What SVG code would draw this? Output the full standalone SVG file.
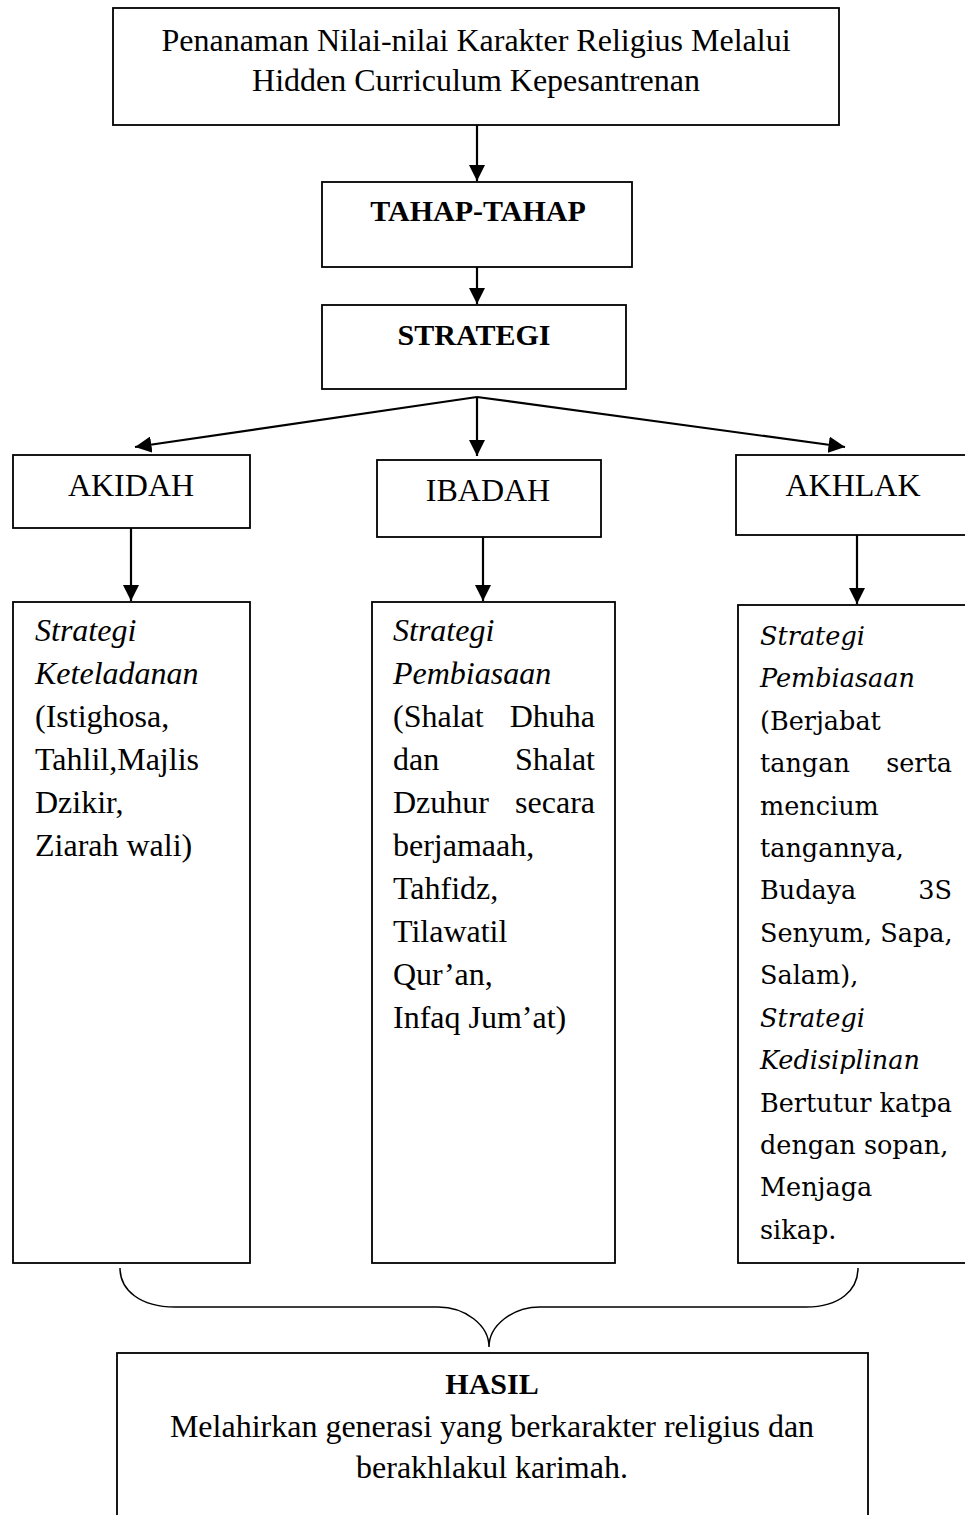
<svg xmlns="http://www.w3.org/2000/svg" width="965" height="1515" viewBox="0 0 965 1515">
<style>
.box{fill:#fff;stroke:#000;stroke-width:1.8}
.t{font-family:"Liberation Serif","Times New Roman",serif;font-size:32px;fill:#000}
.c{text-anchor:middle}
.b{font-weight:bold;font-size:30px}
.i{font-style:italic}
.e{text-anchor:end}
.r{font-family:"DejaVu Serif","Liberation Serif",serif;font-size:25.5px;fill:#000}
.ln{stroke:#000;stroke-width:2.2;fill:none}
</style>
<defs>
<marker id="ah" viewBox="0 0 10 10" refX="10" refY="5" markerWidth="7.5" markerHeight="7.5" orient="auto" markerUnits="strokeWidth">
<path d="M0,0 L10,5 L0,10 z" fill="#000"/>
</marker>
</defs>
<rect width="965" height="1515" fill="#fff"/>
<g id="connectors">
<line class="ln" x1="477" y1="125" x2="477" y2="181" marker-end="url(#ah)"/>
<line class="ln" x1="477" y1="267" x2="477" y2="304" marker-end="url(#ah)"/>
<line class="ln" x1="477" y1="397" x2="135" y2="447" marker-end="url(#ah)"/>
<line class="ln" x1="477" y1="397" x2="477" y2="456" marker-end="url(#ah)"/>
<line class="ln" x1="477" y1="397" x2="845" y2="447" marker-end="url(#ah)"/>
<line class="ln" x1="131" y1="528" x2="131" y2="601" marker-end="url(#ah)"/>
<line class="ln" x1="483" y1="537" x2="483" y2="601" marker-end="url(#ah)"/>
<line class="ln" x1="857" y1="535" x2="857" y2="604" marker-end="url(#ah)"/>
<path d="M120,1268 C120,1290 140,1307 175,1307 L438,1307 C465,1307 489,1325 489,1347 C489,1325 513,1307 540,1307 L806,1307 C840,1307 858,1290 858,1268" fill="none" stroke="#000" stroke-width="1.5"/>
</g>
<g id="top">
<rect class="box" x="113" y="8" width="726" height="117"/>
<text class="t c" x="476" y="51">Penanaman Nilai-nilai Karakter Religius Melalui</text>
<text class="t c" x="476" y="91">Hidden Curriculum Kepesantrenan</text>
</g>
<g id="tahap">
<rect class="box" x="322" y="182" width="310" height="85"/>
<text class="t c b" x="478" y="221">TAHAP-TAHAP</text>
</g>
<g id="strategi">
<rect class="box" x="322" y="305" width="304" height="84"/>
<text class="t c b" x="474" y="345">STRATEGI</text>
</g>
<g id="akidah">
<rect class="box" x="13" y="455" width="237" height="73"/>
<text class="t c" x="131" y="496">AKIDAH</text>
</g>
<g id="ibadah">
<rect class="box" x="377" y="460" width="224" height="77"/>
<text class="t c" x="488" y="501">IBADAH</text>
</g>
<g id="akhlak">
<rect class="box" x="736" y="455" width="235" height="80"/>
<text class="t c" x="853" y="496">AKHLAK</text>
</g>
<g id="col-akidah">
<rect class="box" x="13" y="602" width="237" height="661"/>
<text class="t i" x="35" y="641">Strategi</text>
<text class="t i" x="35" y="684">Keteladanan</text>
<text class="t" x="35" y="727">(Istighosa,</text>
<text class="t" x="35" y="770">Tahlil,Majlis</text>
<text class="t" x="35" y="813">Dzikir,</text>
<text class="t" x="35" y="856">Ziarah wali)</text>
</g>
<g id="col-ibadah">
<rect class="box" x="372" y="602" width="243" height="661"/>
<text class="t i" x="393" y="641">Strategi</text>
<text class="t i" x="393" y="684">Pembiasaan</text>
<text class="t" x="393" y="727">(Shalat</text><text class="t e" x="595" y="727">Dhuha</text>
<text class="t" x="393" y="770">dan</text><text class="t e" x="595" y="770">Shalat</text>
<text class="t" x="393" y="813">Dzuhur</text><text class="t e" x="595" y="813">secara</text>
<text class="t" x="393" y="856">berjamaah,</text>
<text class="t" x="393" y="899">Tahfidz,</text>
<text class="t" x="393" y="942">Tilawatil</text>
<text class="t" x="393" y="985">Qur’an,</text>
<text class="t" x="393" y="1028">Infaq Jum’at)</text>
</g>
<g id="col-akhlak">
<rect class="box" x="738" y="605" width="233" height="658"/>
<text class="r i" x="760" y="645">Strategi</text>
<text class="r i" x="760" y="687">Pembiasaan</text>
<text class="r" x="760" y="730">(Berjabat</text>
<text class="r" x="760" y="772">tangan</text><text class="r e" x="952" y="772">serta</text>
<text class="r" x="760" y="815">mencium</text>
<text class="r" x="760" y="857">tangannya,</text>
<text class="r" x="760" y="899">Budaya</text><text class="r e" x="952" y="899">3S</text>
<text class="r" x="760" y="942">Senyum, Sapa,</text>
<text class="r" x="760" y="984">Salam),</text>
<text class="r i" x="760" y="1027">Strategi</text>
<text class="r i" x="760" y="1069">Kedisiplinan</text>
<text class="r" x="760" y="1112">Bertutur</text><text class="r e" x="952" y="1112">katpa</text>
<text class="r" x="760" y="1154">dengan sopan,</text>
<text class="r" x="760" y="1196">Menjaga</text>
<text class="r" x="760" y="1239">sikap.</text>
</g>
<g id="hasil">
<rect class="box" x="117" y="1353" width="751" height="180"/>
<text class="t c b" x="492" y="1394">HASIL</text>
<text class="t c" x="492" y="1437">Melahirkan generasi yang berkarakter religius dan</text>
<text class="t c" x="492" y="1478">berakhlakul karimah.</text>
</g>
</svg>
